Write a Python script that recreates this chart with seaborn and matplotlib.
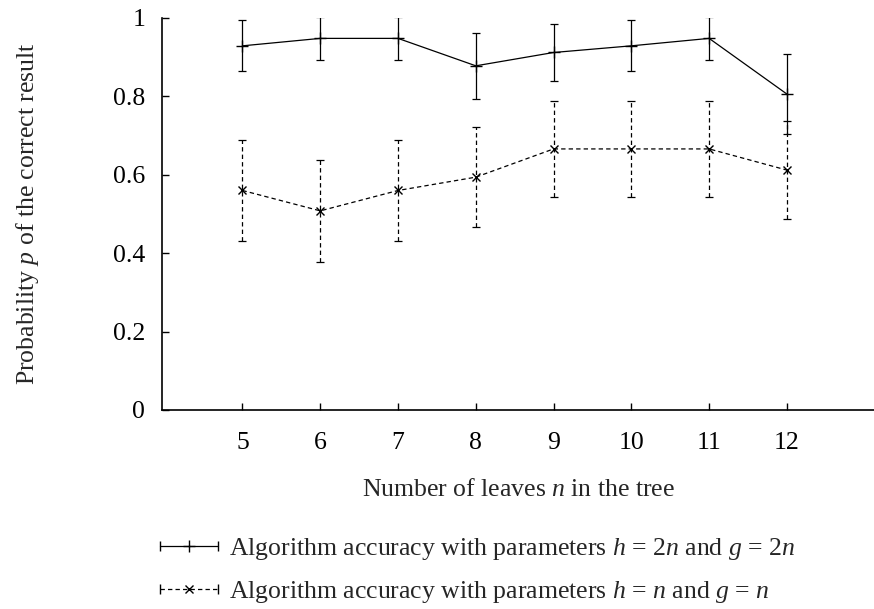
import numpy as np
import pandas as pd
import seaborn as sns
import matplotlib
matplotlib.use("Agg")
import matplotlib.pyplot as plt
from matplotlib.lines import Line2D
from matplotlib.legend_handler import HandlerLine2D, HandlerTuple

# data
leaves = [5, 6, 7, 8, 9, 10, 11, 12]
acc_2n = [0.929, 0.948, 0.948, 0.878, 0.912, 0.929, 0.948, 0.806]
err_2n = [0.065, 0.054, 0.054, 0.085, 0.073, 0.065, 0.054, 0.103]
acc_n = [0.560, 0.508, 0.560, 0.594, 0.666, 0.666, 0.666, 0.612]
err_n = [0.129, 0.130, 0.129, 0.128, 0.123, 0.123, 0.123, 0.126]
y_ticks = [0, 0.2, 0.4, 0.6, 0.8, 1]
y_tick_labels = ["0", "0.2", "0.4", "0.6", "0.8", "1"]
label_2n = r"Algorithm accuracy with parameters $h$ = 2$n$ and $g$ = 2$n$"
label_n = r"Algorithm accuracy with parameters $h$ = $n$ and $g$ = $n$"

df = pd.DataFrame({"n": leaves * 2,
                   "p": acc_2n + acc_n,
                   "err": err_2n + err_n,
                   "series": ["2n"] * len(leaves) + ["n"] * len(leaves)})

sns.set_theme(style="ticks")
plt.rcParams["font.family"] = ["Liberation Serif", "DejaVu Serif"]
plt.rcParams["mathtext.fontset"] = "custom"
plt.rcParams["mathtext.rm"] = "Liberation Serif"
plt.rcParams["mathtext.it"] = "Liberation Serif:italic"

FS = 18.5
fig = plt.figure(figsize=(8.74, 6.09), dpi=100)
ax = fig.add_axes([162 / 874, 199 / 609, 1 - 162 / 874, 392 / 609])

lw = 0.9
dash = (0, (3.5, 2.5))
styles = {"2n": dict(ls="-", marker="+", ms=8), "n": dict(ls=dash, marker="x", ms=6)}
for key, sub in df.groupby("series"):
    st = styles[key]
    sns.lineplot(data=sub, x="n", y="p", ax=ax, color="black", lw=lw,
                 linestyle=st["ls"], marker=st["marker"], markersize=st["ms"],
                 markeredgewidth=1.0, markeredgecolor="black", legend=False)
    eb = ax.errorbar(sub["n"], sub["p"], yerr=sub["err"], fmt="none",
                     ecolor="black", elinewidth=lw, capsize=3, capthick=lw)
    eb[2][0].set_linestyle(st["ls"])

ax.set_xlim(3.965, 13.12)
ax.set_ylim(0, 1)
ax.set_xticks(leaves)
ax.set_yticks(y_ticks)
ax.set_yticklabels(y_tick_labels)
ax.tick_params(direction="in", length=5, width=1, labelsize=FS, colors="black",
               pad=12)
ax.tick_params(axis="x", pad=16)
sns.despine(ax=ax)
for sp in ("left", "bottom"):
    ax.spines[sp].set_linewidth(1.2)
    ax.spines[sp].set_color("black")

ax.set_xlabel(r"Number of leaves $n$ in the tree", fontsize=FS, labelpad=18)
ax.set_ylabel(r"Probability $p$ of the correct result", fontsize=FS,
              labelpad=52)

# legend samples: line with centre marker and end caps
h1 = Line2D([], [], color="black", lw=lw, ls="-", marker="+", markersize=8)
c1 = Line2D([], [], color="black", lw=0, marker="|", markersize=7)
h2 = Line2D([], [], color="black", lw=lw, ls=dash, marker="x", markersize=6)
c2 = Line2D([], [], color="black", lw=0, marker="|", markersize=7)
fig.legend([(h1, c1), (h2, c2)], [label_2n, label_n],
           handler_map={tuple: HandlerTuple(ndivide=1, pad=0),
                        h1: HandlerLine2D(numpoints=1), h2: HandlerLine2D(numpoints=1),
                        c1: HandlerLine2D(numpoints=2, marker_pad=0),
                        c2: HandlerLine2D(numpoints=2, marker_pad=0)},
           loc="upper left", bbox_to_anchor=(160 / 874, 1 - 536 / 609),
           frameon=False, fontsize=FS, handlelength=2.25, handletextpad=0.45,
           labelspacing=0.68, borderaxespad=0, borderpad=0)

fig.savefig("out.png", dpi=100)
